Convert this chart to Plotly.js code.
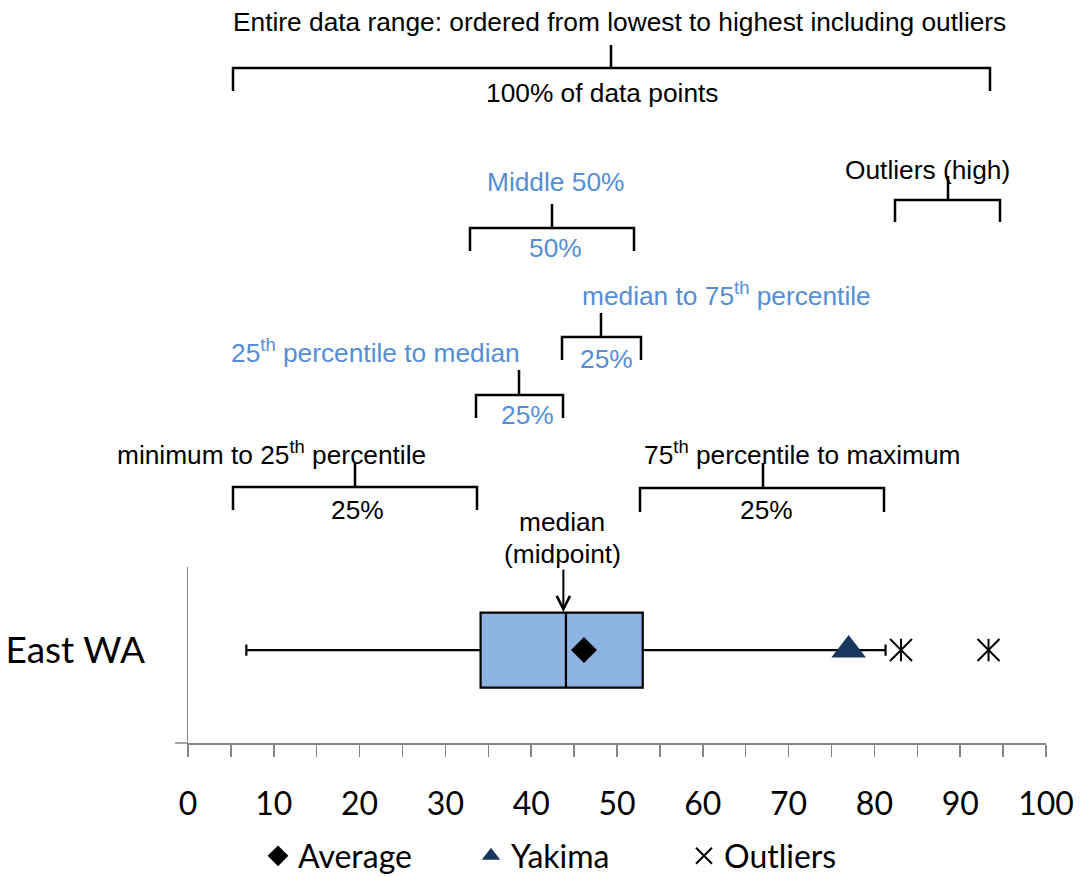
<!DOCTYPE html>
<html><head><meta charset="utf-8">
<script src="https://cdn.plot.ly/plotly-3.0.1.min.js"></script>
<style>html,body{margin:0;padding:0;background:#fff}#chart{width:1088px;height:877px}</style>
</head><body><div id="chart"></div>
<script>
// ---- data ----
const categories = ['East WA'];
const q1Values = [34.1];
const medianValues = [44.05];
const q3Values = [53.0];
const lowerWhiskers = [6.8];
const upperWhiskers = [81.3];
const averageValues = [46.15];
const yakimaValues = [77.0];
const outlierValues = [83.1, 93.3];
const outlierCategories = ['East WA', 'East WA'];
const xTickValues = [0, 10, 20, 30, 40, 50, 60, 70, 80, 90, 100];
const xTickLabels = ['0', '10', '20', '30', '40', '50', '60', '70', '80', '90', '100'];

// ---- layout helpers (pixel -> paper) ----
const W = 1088, H = 877, L = 188, R = 42, T = 567, B = 134;
const PW = W - L - R, PH = H - T - B;
const px = x => (x - L) / PW;
const py = y => (H - B - y) / PH;

const ARIAL = 'Liberation Sans, Arial, sans-serif';
const BLUE = '#558ED5';
const GRAY = '#868686';

// brackets: [horizontal y, left x, right x, leg bottom y, stem x, stem top y]
const brackets = [
  [68, 233, 990, 91, 611, 45],
  [228, 470, 634, 251, 552, 204],
  [200, 895, 1000, 222, 948, 176],
  [337, 562, 641, 360, 601, 313],
  [395, 476, 563, 418, 519, 370],
  [487, 233, 477, 510, 355, 463],
  [488, 640, 884, 512, 763, 463]
];
const shapes = brackets.map(([yh, x1, x2, yb, xs, yt]) => ({
  type: 'path', xref: 'paper', yref: 'paper',
  path: `M${px(x1)},${py(yb)} L${px(x1)},${py(yh)} L${px(x2)},${py(yh)} L${px(x2)},${py(yb)} M${px(xs)},${py(yh)} L${px(xs)},${py(yt)}`,
  line: {color: '#000', width: 2.5}
}));
shapes.push({type: 'line', xref: 'paper', yref: 'paper', x0: px(175), x1: 0, y0: 0, y1: 0,
  line: {color: GRAY, width: 1.5}});

// labels: [text, center x, center y, color]
const labels = [
  ['Entire data range: ordered from lowest to highest including outliers', 619, 22, '#000'],
  ['100% of data points', 602, 93, '#000'],
  ['Middle 50%', 555, 182, BLUE],
  ['50%', 555, 248, BLUE],
  ['Outliers (high)', 927, 170, '#000'],
  ['median to 75<sup>th</sup> percentile', 726, 294, BLUE],
  ['25%', 606, 359, BLUE],
  ['25<sup>th</sup> percentile to median', 375, 351, BLUE],
  ['25%', 527, 415, BLUE],
  ['minimum to 25<sup>th</sup> percentile', 271, 453, '#000'],
  ['75<sup>th</sup> percentile to maximum', 802, 453, '#000'],
  ['25%', 357, 510, '#000'],
  ['25%', 766, 510, '#000'],
  ['median', 562, 522, '#000'],
  ['(midpoint)', 562, 554, '#000']
];
const annotations = labels.map(([text, x, y, color]) => ({
  text, xref: 'paper', yref: 'paper', x: px(x), y: py(y),
  xanchor: 'center', yanchor: 'middle', showarrow: false,
  font: {family: ARIAL, size: 26.3, color}
}));
annotations.push({
  text: '', xref: 'x', yref: 'paper', x: medianValues[0] - 0.3, y: py(612),
  showarrow: true, ax: 0, ay: -44, arrowhead: 5, arrowsize: 1.3, arrowwidth: 2, arrowcolor: '#000'
});

const traces = [
  {
    type: 'box', orientation: 'h', y: categories,
    q1: q1Values, median: medianValues, q3: q3Values,
    lowerfence: lowerWhiskers, upperfence: upperWhiskers,
    width: 0.426, whiskerwidth: 0.15, boxpoints: false,
    fillcolor: '#8EB4E3', line: {color: '#000', width: 2.2},
    showlegend: false, hoverinfo: 'skip'
  },
  {
    type: 'scatter', mode: 'markers', name: 'Average',
    x: averageValues, y: categories,
    marker: {symbol: 'diamond', size: 20, color: '#000'}
  },
  {
    type: 'scatter', mode: 'markers', name: 'Yakima',
    x: yakimaValues, y: categories,
    marker: {symbol: 'triangle-up', size: 30, color: '#17375E'}
  },
  {
    type: 'scatter', mode: 'markers', name: 'Outliers',
    x: outlierValues, y: outlierCategories,
    marker: {symbol: 'x-thin-open', size: 22, color: '#000', line: {color: '#000', width: 2}}
  },
  {
    type: 'scatter', mode: 'markers', name: 'Outliers', showlegend: false,
    x: outlierValues, y: outlierCategories,
    marker: {symbol: 'line-ns-open', size: 16, color: '#000', line: {color: '#000', width: 2}}
  }
];

const layout = {
  width: W, height: H,
  margin: {l: L, r: R, t: T, b: B, pad: 0, autoexpand: false},
  paper_bgcolor: '#fff', plot_bgcolor: '#fff',
  font: {family: 'Lato, sans-serif', color: '#000'},
  showlegend: true,
  legend: {
    orientation: 'h', x: px(258), xanchor: 'left', y: py(856), yanchor: 'middle',
    font: {family: 'Lato, sans-serif', size: 32, color: '#000'},
    bgcolor: 'rgba(0,0,0,0)', entrywidth: 168, entrywidthmode: 'pixels'
  },
  xaxis: {
    range: [0, 100], showgrid: false, zeroline: false,
    showline: true, linecolor: GRAY, linewidth: 1.5,
    ticks: 'outside', ticklen: 12, tickwidth: 1.5, tickcolor: GRAY,
    tickmode: 'array', tickvals: xTickValues, ticktext: xTickLabels,
    tickfont: {family: 'Lato, sans-serif', size: 32, color: '#000'},
    ticklabelstandoff: 20,
    minor: {dtick: 5, ticks: 'outside', ticklen: 12, tickwidth: 1.5, tickcolor: GRAY, showgrid: false},
    fixedrange: true
  },
  yaxis: {
    type: 'category', range: [-0.528, 0.472], showgrid: false, zeroline: false,
    showline: true, linecolor: GRAY, linewidth: 1.5, ticks: '',
    tickfont: {family: 'Lato, sans-serif', size: 37, color: '#000'},
    ticklabelstandoff: 34, fixedrange: true
  },
  shapes, annotations
};

Plotly.newPlot('chart', traces, layout, {displayModeBar: false, staticPlot: true});
</script>
</body></html>
